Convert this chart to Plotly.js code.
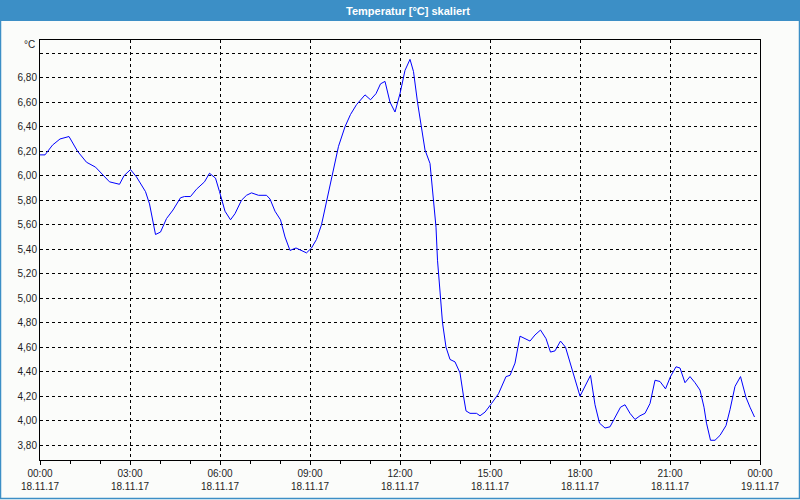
<!DOCTYPE html>
<html>
<head>
<meta charset="utf-8">
<script src="https://cdn.plot.ly/plotly-3.0.1.min.js"></script>
<style>
  html, body { margin: 0; padding: 0; background: #fbfcfa; }
  #chart { width: 800px; height: 500px; }
</style>
</head>
<body>
<div id="chart"></div>
<script>
// ---- data ----
const day = "2017-11-18";
const times = [
  "00:00","00:10","00:25","00:40","00:58","01:15","01:33","01:51","02:19","02:39",
  "02:48","03:01","03:13","03:31","03:39","03:51","04:01","04:13","04:26","04:41",
  "04:49","05:01","05:13","05:29","05:39","05:51","05:59","06:10","06:21","06:30",
  "06:43","06:53","07:03","07:17","07:33","07:40","07:50","08:01","08:10","08:20",
  "08:32","08:43","08:53","09:03","09:13","09:23","09:33","09:45","09:57","10:10",
  "10:21","10:33","10:50","11:01","11:12","11:21","11:30","11:40","11:50","12:00",
  "12:10","12:20","12:27","12:35","12:43","12:50","13:00","13:07","13:12","13:15",
  "13:20","13:25","13:32","13:40","13:50","14:00","14:07","14:12","14:20","14:33",
  "14:40","14:50","15:03","15:17","15:32","15:40","15:50","16:00","16:10","16:20",
  "16:30","16:41","16:52","17:01","17:10","17:21","17:31","17:43","18:00","18:21",
  "18:30","18:39","18:50","19:00","19:10","19:21","19:30","19:40","19:50","20:00",
  "20:10","20:20","20:30","20:40","20:51","21:01","21:12","21:20","21:30","21:40",
  "21:50","22:00","22:08","22:13","22:21","22:30","22:40","22:52","23:00","23:10",
  "23:21","23:32","23:40","23:49"
];
const temps = [
  6.17,6.17,6.25,6.30,6.32,6.20,6.11,6.07,5.95,5.93,
  6.00,6.05,5.99,5.87,5.77,5.52,5.54,5.65,5.72,5.82,
  5.83,5.83,5.89,5.95,6.02,5.98,5.87,5.71,5.64,5.69,
  5.80,5.84,5.86,5.84,5.84,5.81,5.71,5.64,5.50,5.39,
  5.41,5.39,5.37,5.41,5.48,5.60,5.79,5.99,6.24,6.40,
  6.50,6.58,6.66,6.62,6.67,6.75,6.77,6.60,6.52,6.67,
  6.86,6.95,6.85,6.60,6.39,6.21,6.10,5.80,5.58,5.31,
  5.01,4.80,4.60,4.50,4.48,4.39,4.20,4.08,4.06,4.06,
  4.04,4.07,4.14,4.22,4.36,4.37,4.47,4.69,4.67,4.65,
  4.70,4.74,4.67,4.56,4.57,4.65,4.60,4.44,4.20,4.37,
  4.13,3.98,3.94,3.95,4.03,4.11,4.13,4.06,4.01,4.04,
  4.06,4.14,4.33,4.32,4.26,4.36,4.44,4.43,4.31,4.36,
  4.31,4.25,4.11,3.98,3.84,3.84,3.88,3.96,4.09,4.28,
  4.36,4.19,4.11,4.03
];
const yTickVals = [3.8,4.0,4.2,4.4,4.6,4.8,5.0,5.2,5.4,5.6,5.8,6.0,6.2,6.4,6.6,6.8,7.0];
const yTickText = ["3,80","4,00","4,20","4,40","4,60","4,80","5,00","5,20","5,40","5,60","5,80","6,00","6,20","6,40","6,60","6,80",""];
const titleText = "Temperatur [°C] skaliert";
const unitText = "°C";

const xs = times.map(t => day + " " + t);

// paper geometry helpers (plot area 40..760 x 40..460)
const L = 40, R = 40, T = 40, B = 40, W = 800, H = 500;
const pw = W - L - R, ph = H - T - B;
const px = p => (p - L) / pw;          // pixel x -> paper x
const py = p => (H - B - p) / ph;      // pixel y -> paper y

const tickFont = { family: "Liberation Sans, Arial, sans-serif", size: 10, color: "#1e1e1e" };

const layout = {
  width: W, height: H,
  margin: { l: L, r: R, t: T, b: B, pad: 0 },
  paper_bgcolor: "#fbfcfa",
  plot_bgcolor: "#fbfcfa",
  showlegend: false,
  xaxis: {
    type: "date",
    range: ["2017-11-18 00:00", "2017-11-19 00:00"],
    tickmode: "linear",
    tick0: "2017-11-18 00:00",
    dtick: 3 * 3600 * 1000,
    tickformat: "%H:%M<br>%d.%m.%y",
    tickfont: tickFont,
    ticks: "outside", ticklen: 4, tickcolor: "#000", tickwidth: 1,
    minor: { dtick: 3600 * 1000, ticks: "outside", ticklen: 3, tickcolor: "#000", showgrid: false },
    showgrid: true, gridcolor: "#000", gridwidth: 1, griddash: "3px,3px",
    showline: true, linecolor: "#000", linewidth: 1, mirror: true,
    zeroline: false, fixedrange: true
  },
  yaxis: {
    range: [3.679, 7.108],
    tickmode: "array",
    tickvals: yTickVals,
    ticktext: yTickText,
    tickfont: tickFont,
    ticks: "",
    showgrid: true, gridcolor: "#000", gridwidth: 1, griddash: "3px,3px",
    showline: true, linecolor: "#000", linewidth: 1, mirror: true,
    zeroline: false, fixedrange: true
  },
  shapes: [
    { type: "rect", xref: "paper", yref: "paper", layer: "above",
      x0: px(0), x1: px(W), y0: py(21), y1: py(0),
      fillcolor: "#3c8fc6", line: { width: 0 } },
    { type: "rect", xref: "paper", yref: "paper", layer: "above",
      x0: px(0.5), x1: px(W - 0.5), y0: py(H - 1.5), y1: py(0.5),
      fillcolor: "rgba(0,0,0,0)", line: { color: "#3c8fc6", width: 1.5 } }
  ],
  annotations: [
    { xref: "paper", yref: "paper", x: px(408), y: py(10.5),
      xanchor: "center", yanchor: "middle", showarrow: false,
      text: titleText,
      font: { family: "Liberation Sans, Arial, sans-serif", size: 11, color: "#ffffff", weight: "bold" } },
    { xref: "paper", yref: "paper", x: px(37), y: py(45),
      xanchor: "right", yanchor: "middle", showarrow: false,
      text: unitText, font: tickFont }
  ]
};

const trace = {
  type: "scatter", mode: "lines",
  x: xs, y: temps,
  line: { color: "#0000ff", width: 1 },
  hoverinfo: "skip"
};

Plotly.newPlot("chart", [trace], layout, { staticPlot: true, displayModeBar: false });
</script>
</body>
</html>
